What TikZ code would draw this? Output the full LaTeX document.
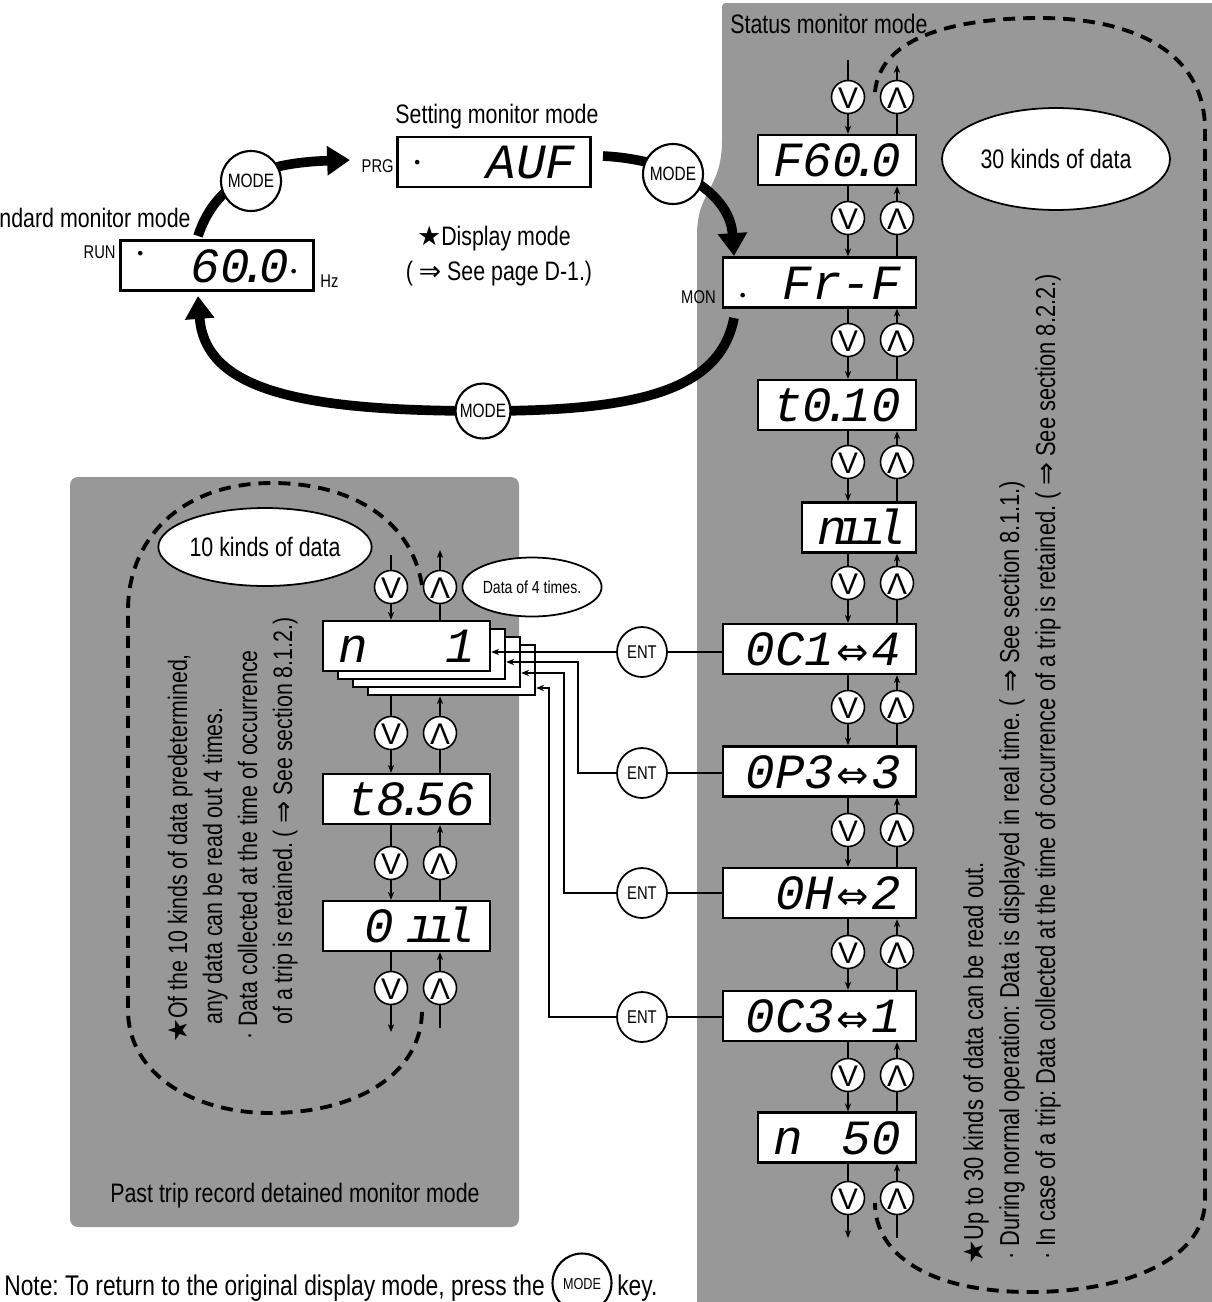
\documentclass[tikz,border=0pt]{standalone}
\usepackage{fontspec}
\setmainfont{Liberation Sans}[FakeStretch=0.8]
\newfontfamily\segfont{Liberation Mono}
\newfontfamily\keyfont{Liberation Sans}
\newfontfamily\symfont{DejaVu Sans}
\usetikzlibrary{arrows.meta,shapes.geometric}
\frenchspacing

\definecolor{panelgray}{RGB}{152,152,152}

\newcommand\symstar{{\symfont ★}}
\newcommand\symimp{{\symfont ⇒}}
\newcommand\symiff{\kern0.05em{\upshape\symfont\fontsize{22}{22}\selectfont ⇔}\kern0.05em}
\newcommand\dotmark[1]{\raisebox{#1}{\symfont\fontsize{9}{9}\selectfont •}}
\newcommand\nk{\kern-0.2em}

\tikzset{
  lcd/.style={draw, line width=1.4pt, fill=white, inner xsep=0.3cm, inner ysep=0.17cm,
    text height=0.66cm, text depth=0cm, align=right,
    font=\segfont\itshape\fontsize{28}{28}\selectfont},
  lcdL/.style={lcd, text width=3.26cm},
  lcdM/.style={lcd, text width=2.56cm},
  lcdS/.style={lcd, text width=1.68cm},
  lcdP/.style={lcd, text width=2.74cm},
  keyv/.style={circle, draw, line width=0.9pt, fill=white, minimum size=0.66cm, inner sep=0pt,
    text height=0.44cm, text depth=0cm, font=\keyfont\fontsize{17}{17}\selectfont},
  modekey/.style={circle, draw, line width=1.2pt, fill=white, minimum size=1.2cm, inner sep=0pt,
    text height=0.27cm, text depth=0cm, font=\fontsize{11}{11}\selectfont},
  entkey/.style={circle, draw, line width=1pt, fill=white, minimum size=1cm, inner sep=0pt,
    text height=0.26cm, text depth=0cm, font=\fontsize{10.5}{10.5}\selectfont},
  kinds/.style={ellipse, draw, line width=1pt, fill=white, inner sep=0pt},
  txt/.style={inner sep=0pt},
  tag/.style={font=\fontsize{10.5}{10.5}\selectfont, inner sep=0pt},
  sidenote/.style={rotate=90, anchor=base west, inner sep=0pt},
  thinarrow/.style={line width=0.6pt, -{Stealth[length=4.5pt,width=3.6pt]}},
  thinline/.style={line width=0.6pt},
  bigarrow/.style={line width=5.5pt, -{Triangle[length=13pt,width=16pt]}},
  loop/.style={line width=2.2pt, dash pattern=on 0.24cm off 0.16cm},
}

\begin{document}
\begin{tikzpicture}[x=0.02cm, y=-0.02cm, font=\fontsize{15.2}{18}\selectfont]
\useasboundingbox (0,0) rectangle (1211,1302);

% Panels
\fill[panelgray] (697,1302) -- (697,235) .. controls (697,190) and (722,190) .. (722,140)
  -- (722,11) .. controls (722,3) .. (730,3) -- (1215,3) -- (1215,1302) -- cycle;
\fill[panelgray, rounded corners=0.16cm] (70,477) rectangle (519,1227);

% Dashed loops
\draw[loop] (875,92) .. controls (880,35) and (960,18) .. (1040,18)
  .. controls (1130,18) and (1205,50) .. (1205,130) -- (1205,1200)
  .. controls (1205,1262) and (1120,1292) .. (1030,1292)
  .. controls (930,1292) and (875,1255) .. (875,1203);
\draw[loop] (422,585) .. controls (410,515) and (345,483) .. (272,483)
  .. controls (180,483) and (128,540) .. (128,610) -- (128,1010)
  .. controls (128,1075) and (195,1113) .. (270,1113)
  .. controls (355,1113) and (422,1075) .. (422,1010);

% Mode displays
\node[lcdL] (dRun) at (217,265.5) {\dotmark{0.46cm}\hfill 60\nk.\nk 0\dotmark{0.1cm}\hspace*{-0.2cm}};
\node[lcdL] (dPrg) at (494,162) {\dotmark{0.21cm}\hfill AUF};
\node[tag, anchor=base east] (lRun) at (116,258) {RUN};
\node[tag, anchor=base west] (lHz) at (320,287) {Hz};
\node[tag, anchor=base east] (lPrg) at (394,172) {PRG};
\node[tag, anchor=base east] (lMon) at (716,303) {MON};
\node[txt, anchor=base east] (tStd) at (191,227) {Standard monitor mode};
\node[txt, anchor=base] (tSet) at (497,123) {Setting monitor mode};
\node[txt, anchor=base] (tDisp) at (494,245) {\symstar Display mode};
\node[txt, anchor=base] (tPage) at (499,280) {( \symimp{} See page D-1.)};
\node[txt, anchor=base west] (tStat) at (730,33) {Status monitor mode};

% Status monitor displays
\node[lcdM] (dF) at (837,160) {F60\nk.\nk 0};
\node[lcdL] (dMon) at (819.5,282.5) {\dotmark{-0.05cm}\hfill Fr-F};
\node[lcdM] (dT) at (837,405) {t0\nk.\nk 10};
\node[lcdS] (dN) at (859,527.5) {n\nk ı\nk ı\nk l};
\node[lcdL] (dOCa) at (819.5,649) {0C1\symiff 4};
\node[lcdL] (dOP) at (819.5,771.5) {0P3\symiff 3};
\node[lcdL] (dOH) at (819.5,893) {0H\symiff 2};
\node[lcdL] (dOCc) at (819.5,1016) {0C3\symiff 1};
\node[lcdM] (dNs) at (837,1137.5) {n\hfill 50};

% Big mode arrows
\draw[bigarrow] (198,236) .. controls (215,185) and (255,163) .. (350,160);
\draw[bigarrow] (603,156) .. controls (680,160) and (730,195) .. (734,256);
\draw[bigarrow] (734,318) .. controls (720,390) and (640,411) .. (483,411)
  .. controls (300,411) and (205,390) .. (198,296);
\node[modekey] (mA) at (251,181) {MODE};
\node[modekey] (mB) at (673,174) {MODE};
\node[modekey, minimum size=1.1cm] (mC) at (483,411) {MODE};

% Status column keys
\coordinate (rdn) at (848,0);
\coordinate (rup) at (897,0);
\coordinate (rinT) at (848,60);
\coordinate (routT) at (897,65);
\coordinate (routB) at (848,1238);
\coordinate (rinB) at (897,1238);
\draw[thinarrow] (rinT) -- (dF.north -| rdn);
\draw[thinarrow] (dF.north -| rup) -- (routT);
\node[keyv] (rkv0) at (848,97) {V};
\node[keyv] (rka0) at (897,97) {Λ};
\foreach \a/\b/\y [count=\i] in {dF/dMon/218, dMon/dT/340, dT/dN/462, dN/dOCa/583,
    dOCa/dOP/707, dOP/dOH/830, dOH/dOCc/952, dOCc/dNs/1075}{
  \draw[thinarrow] (\a.south -| rdn) -- (\b.north -| rdn);
  \draw[thinarrow] (\b.north -| rup) -- (\a.south -| rup);
  \node[keyv] (rkv\i) at (848,\y) {V};
  \node[keyv] (rka\i) at (897,\y) {Λ};
}
\draw[thinarrow] (dNs.south -| rdn) -- (routB);
\draw[thinarrow] (rinB) -- (dNs.south -| rup);
\node[keyv] (rkv9) at (848,1198) {V};
\node[keyv] (rka9) at (897,1198) {Λ};

\node[kinds, minimum width=4.56cm, minimum height=2.04cm] (kR) at (1056,159) {30 kinds of data};

% Notes along the status column
\begin{scope}[font=\fontsize{15.6}{18}\selectfont]
\node[sidenote] (nR1) at (983,1265) {\symstar Up to 30 kinds of data can be read out.};
\node[sidenote] (nR2) at (1019,1260) {· During normal operation: Data is displayed in real time. ( \symimp{} See section 8.1.1.)};
\node[sidenote] (nR3) at (1055,1260) {· In case of a trip: Data collected at the time of occurrence of a trip is retained. ( \symimp{} See section 8.2.2.)};
\end{scope}

% Past trip record displays
\foreach \k in {3,2,1}{
  \node[lcdP] (dTrip\k) at (406.5+15*\k,646+8*\k) {};
}
\node[lcdP] (dTrip0) at (406.5,646) {n\hfill 1};
\node[lcdP] (dTt) at (406.5,799) {t8\nk.\nk 56};
\node[lcdP] (dTo) at (406.5,926) {0\hspace{0.25cm}ı\nk ı\nk l};

\coordinate (ldn) at (391,0);
\coordinate (lup) at (440,0);
\coordinate (linT) at (391,555);
\coordinate (loutT) at (440,550);
\coordinate (loutB) at (391,1032);
\coordinate (linB) at (440,1028);
\draw[thinarrow] (linT) -- (dTrip0.north -| ldn);
\draw[thinarrow] (dTrip0.north -| lup) -- (loutT);
\node[keyv] (lkv0) at (391,587) {V};
\node[keyv] (lka0) at (440,587) {Λ};
\foreach \a/\b/\y [count=\i] in {dTrip3/dTt/733, dTt/dTo/863}{
  \draw[thinarrow] (\a.south -| ldn) -- (\b.north -| ldn);
  \draw[thinarrow] (\b.north -| lup) -- (\a.south -| lup);
  \node[keyv] (lkv\i) at (391,\y) {V};
  \node[keyv] (lka\i) at (440,\y) {Λ};
}
\draw[thinarrow] (dTo.south -| ldn) -- (loutB);
\draw[thinarrow] (linB) -- (dTo.south -| lup);
\node[keyv] (lkv3) at (391,988) {V};
\node[keyv] (lka3) at (440,988) {Λ};

\node[kinds, minimum width=3.92cm, minimum height=1.56cm] (kL) at (265,547) {10 kinds of data};
\node[kinds, minimum width=2.4cm, minimum height=1.18cm, font=\fontsize{10}{10}\selectfont] (kT) at (532,587) {Data of 4 times.};

\node[sidenote] (nL1) at (187,1043) {\symstar Of the 10 kinds of data predetermined,};
\node[sidenote] (nL2) at (222,1025) {any data can be read out 4 times.};
\node[sidenote] (nL3) at (257,1040) {· Data collected at the time of occurrence};
\node[sidenote] (nL4) at (292,1025) {of a trip is retained. ( \symimp{} See section 8.1.2.)};
\node[txt, anchor=base] (tPast) at (295,1202) {Past trip record detained monitor mode};

% ENT keys
\node[entkey] (eA) at (642,652) {ENT};
\node[entkey] (eB) at (642,773) {ENT};
\node[entkey] (eC) at (642,893) {ENT};
\node[entkey] (eD) at (642,1017) {ENT};
\draw[thinline] (eA.east) -- (eA.east -| dOCa.west);
\draw[thinline] (eB.east) -- (eB.east -| dOP.west);
\draw[thinline] (eC.east) -- (eC.east -| dOH.west);
\draw[thinline] (eD.east) -- (eD.east -| dOCc.west);
\coordinate (jB) at (578,662);
\coordinate (jC) at (564,673);
\coordinate (jD) at (549,688);
\draw[thinarrow] (eA.west) -- (eA.west -| dTrip0.east);
\draw[thinarrow] (eB.west) -| (jB) -- (jB -| dTrip1.east);
\draw[thinarrow] (eC.west) -| (jC) -- (jC -| dTrip2.east);
\draw[thinarrow] (eD.west) -| (jD) -- (jD -| dTrip3.east);

% Bottom note
\node[txt, anchor=base west, font=\fontsize{16.2}{18}\selectfont] (noteA) at (4,1295) {Note: To return to the original display mode, press the};
\node[modekey, minimum size=1.18cm, font=\fontsize{9}{9}\selectfont] (noteKey) at (582,1283) {MODE};
\node[txt, anchor=base west, font=\fontsize{16.2}{18}\selectfont] (noteB) at (617,1295) {key.};
\end{tikzpicture}
\end{document}
